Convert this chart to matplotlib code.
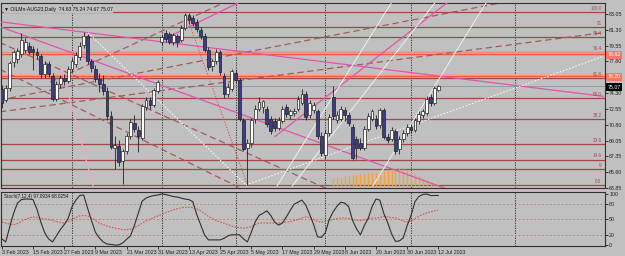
import matplotlib
matplotlib.use("Agg")
import matplotlib.pyplot as plt
import numpy as np

plt.rcParams['font.family'] = ['Liberation Sans', 'DejaVu Sans']

# ---- data ---------------------------------------------------------------
opens = [74.80, 73.60, 74.90, 77.70, 78.10, 78.60, 79.10, 79.50, 79.20, 78.90,
         78.40, 76.40, 77.50, 76.20, 73.70, 75.30, 76.00, 75.60, 77.00, 77.50,
         78.30, 79.60, 80.60, 77.80, 77.00, 75.90, 75.30, 74.60, 71.80, 68.30,
         68.50, 66.80, 67.90, 69.60, 71.00, 70.30, 69.40, 72.80, 73.60, 73.00,
         74.60, 80.00, 80.90, 80.80, 80.00, 80.60, 80.20, 81.50, 82.90, 82.60,
         82.20, 81.30, 80.60, 79.10, 77.30, 77.80, 78.80, 76.20, 74.20, 74.80,
         76.50, 75.80, 71.30, 68.30, 68.80, 71.50, 72.60, 72.80, 72.60, 71.50,
         71.20, 70.50, 71.20, 72.80, 71.90, 72.10, 72.60, 73.20, 74.20, 71.90,
         72.40, 72.30, 69.60, 67.50, 69.90, 73.90, 71.40, 71.50, 72.50, 71.90,
         70.60, 69.30, 68.80, 68.30, 70.40, 71.50, 71.50, 70.80, 72.40, 69.50,
         69.30, 70.10, 68.10, 69.20, 69.90, 70.60, 70.30, 71.20, 71.90, 72.10,
         73.90, 73.20, 74.63]
highs = [75.20, 75.20, 77.90, 79.10, 79.30, 80.90, 80.40, 79.90, 79.50, 79.30,
         78.60, 77.90, 77.80, 76.50, 75.60, 76.30, 76.40, 77.30, 78.20, 78.80,
         79.90, 81.00, 80.80, 78.10, 77.40, 76.50, 76.30, 75.00, 72.30, 69.60,
         69.10, 68.20, 69.90, 71.50, 71.90, 70.70, 73.10, 73.90, 73.90, 74.90,
         75.80, 80.70, 81.30, 81.10, 80.90, 80.80, 81.80, 83.20, 83.10, 82.90,
         82.50, 81.60, 80.90, 79.40, 78.10, 79.20, 79.10, 76.50, 75.40, 77.00,
         76.90, 76.00, 71.60, 69.30, 71.60, 73.00, 73.90, 73.50, 72.90, 71.80,
         71.60, 71.70, 72.90, 73.10, 72.60, 72.70, 74.00, 74.80, 74.50, 73.50,
         73.30, 72.60, 70.00, 70.20, 72.00, 75.10, 72.30, 72.90, 72.80, 72.20,
         70.90, 69.60, 69.40, 70.70, 72.10, 72.60, 71.90, 72.70, 72.70, 69.90,
         70.60, 70.40, 69.60, 70.20, 70.90, 70.90, 71.60, 72.30, 72.60, 74.00,
         74.20, 75.10, 75.24]
lows = [72.70, 73.30, 74.60, 77.20, 77.60, 78.30, 78.70, 78.60, 76.90, 78.10,
        76.00, 76.00, 76.10, 73.40, 73.40, 74.90, 75.20, 75.40, 76.60, 77.20,
        78.00, 79.30, 77.50, 76.60, 75.50, 74.40, 74.10, 71.40, 68.10, 65.90,
        66.30, 64.30, 67.60, 69.30, 70.00, 67.80, 69.10, 72.40, 72.60, 72.80,
        74.30, 79.60, 80.00, 79.70, 79.60, 79.40, 79.90, 81.30, 81.90, 81.70,
        81.10, 80.30, 78.90, 76.90, 76.80, 77.50, 76.30, 73.80, 73.90, 74.50,
        75.40, 71.20, 67.90, 64.20, 68.40, 71.00, 72.30, 72.10, 70.60, 69.80,
        70.10, 70.20, 71.00, 71.70, 71.50, 71.80, 72.30, 73.00, 71.40, 71.60,
        72.10, 69.30, 67.40, 67.10, 69.60, 71.50, 71.00, 71.20, 71.20, 70.70,
        66.90, 67.00, 68.00, 68.00, 70.10, 71.20, 70.40, 70.50, 69.20, 68.80,
        69.00, 67.60, 67.60, 68.90, 69.60, 69.90, 70.00, 70.90, 71.60, 71.90,
        72.90, 73.00, 74.57]
closes = [73.20, 74.90, 77.60, 78.80, 79.00, 80.20, 80.00, 78.90, 78.80, 78.50,
          76.40, 77.50, 76.40, 73.70, 75.30, 76.00, 75.60, 77.00, 77.90, 78.50,
          79.50, 80.60, 77.80, 77.10, 75.90, 75.30, 74.50, 71.80, 68.40, 68.60,
          66.70, 67.90, 69.60, 71.10, 70.40, 69.60, 72.90, 73.50, 73.00, 74.70,
          75.50, 80.50, 80.30, 80.00, 80.70, 79.90, 81.50, 82.90, 82.40, 82.00,
          81.40, 80.60, 79.10, 77.20, 77.80, 78.80, 76.60, 74.20, 75.00, 76.70,
          75.80, 71.50, 68.20, 68.80, 71.30, 72.60, 73.30, 73.40, 70.90, 70.10,
          70.50, 71.40, 72.60, 72.00, 72.30, 72.30, 73.70, 74.20, 71.70, 73.20,
          73.00, 69.60, 67.70, 69.90, 71.70, 71.80, 71.90, 72.60, 71.90, 71.00,
          67.20, 68.30, 68.30, 70.40, 71.80, 72.30, 70.70, 72.40, 69.50, 69.10,
          70.30, 67.90, 69.30, 69.90, 70.60, 70.20, 71.30, 72.00, 72.30, 73.70,
          73.20, 74.90, 75.07]

stoch_k = [12, 6, 35, 62, 82, 89, 90, 90, 89, 70, 45, 24, 12, 6, 18, 30, 40, 52,
           75, 88, 97, 98, 72, 48, 25, 14, 6, 2, 1, 0, 0, 4, 11, 18, 38, 62, 86,
           92, 95, 97, 98, 100, 99, 97, 95, 94, 92, 90, 89, 85, 60, 40, 20, 10,
           10, 10, 10, 13, 18, 20, 20, 20, 12, 6, 25, 45, 58, 62, 67, 58, 45, 39,
           43, 55, 68, 80, 84, 88, 78, 60, 40, 16, 15, 24, 50, 65, 76, 84, 82,
           75, 48, 32, 20, 38, 52, 75, 90, 88, 62, 44, 22, 7, 8, 14, 38, 58, 85,
           95, 99, 100, 97, 97, 97.09]
stoch_d = [45, 43, 41, 40, 42, 46, 50, 53, 55, 54, 52, 51, 50, 48, 46, 44, 43, 46,
           50, 54, 57, 58, 57, 53, 48, 43, 40, 37, 35, 33, 32, 30, 30, 31, 34, 38,
           43, 47, 50, 54, 57, 60, 63, 66, 69, 71, 73, 74, 74, 73, 71, 67, 62, 56,
           52, 48, 45, 43, 40, 37, 35, 34, 33, 34, 36, 40, 43, 43, 43, 43, 43, 43,
           44, 45, 46, 48, 50, 53, 55, 54, 50, 46, 45, 46, 48, 50, 52, 53, 53, 52,
           50, 48, 48, 49, 51, 53, 53, 54, 56, 55, 54, 53, 50, 47, 45, 47, 52, 56,
           60, 63, 65, 67, 68.03]

# orange histogram in the price window (bars 85..112)
hist_start = 85
hist_top = [65.00, 65.05, 65.10, 65.15, 65.20, 65.25, 65.30, 65.35, 65.40, 65.45,
            65.50, 65.55, 65.60, 65.70, 65.80, 65.95, 66.10, 66.15, 66.00, 65.80,
            65.60, 65.40, 65.20, 64.95, 64.70, 64.50, 64.30, 64.20]

date_labels = ["3 Feb 2023", "15 Feb 2023", "27 Feb 2023", "9 Mar 2023",
               "21 Mar 2023", "31 Mar 2023", "13 Apr 2023", "25 Apr 2023",
               "5 May 2023", "17 May 2023", "29 May 2023", "8 Jun 2023",
               "20 Jun 2023", "30 Jun 2023", "12 Jul 2023"]
date_label_bars = [0, 8, 16, 24, 32, 40, 48, 56, 64, 72, 80, 88, 96, 104, 112]
month_separators = [18, 41, 60, 83, 105, 131.7]

price_ticks = [83.05, 81.30, 79.55, 77.80, 74.30, 72.55, 70.80, 69.05, 67.35,
               65.60, 63.85]
fib_low, fib_high = 64.20, 83.30
fib_anchor_bars = [47, 63]
fib_levels = [0.0, 9.0, 14.6, 23.6, 38.2, 50.0, 61.8, 76.4, 85.4, 91.0, 100.0]
fib_names = ["0.0", "9", "14.6", "23.6", "38.2", "50.0", "61.8", "76.4", "85.4",
             "91", "100.0"]
red_levels = [78.62, 76.20]
bid = 75.07

# trendlines: (bar1, price1, bar2, price2)
pink_lines = [(-0.5, 82.18, 154.3, 73.96),
              (-0.5, 81.64, 114.2, 63.75),
              (70.1, 69.53, 114.5, 84.36),
              (41.3, 80.21, 61.1, 84.36)]
pale_pink_lines = [(15.4, 76.94, 23.4, 64.07)]
white_dotted = [(62.65, 64.18, 154.3, 78.36),
                (22.1, 80.98, 62.65, 64.18)]
white_solid = [(70.6, 64.07, 100.4, 84.58),
               (74.5, 64.07, 111.7, 84.58),
               (95.2, 64.07, 124.7, 84.58)]
brown_dashed = [(-0.5, 73.56, 130.4, 84.47),
                (-0.5, 72.25, 154.3, 80.98),
                (12.4, 75.52, 58.5, 84.58),
                (-0.5, 79.89, 82.9, 63.86),
                (-0.5, 76.94, 61.1, 63.86)]

# ---- drawing --------------------------------------------------------------
BG = "#c0c0c0"
FIB = "#a04848"
W, H = 625, 256
FS = 3.8


def fx(px):
    return px / W


def fy(py):
    return 1 - py / H


fig = plt.figure(figsize=(W / 100, H / 100), dpi=100, facecolor=BG)
ax = fig.add_axes([fx(1), fy(188), fx(604), fy(3) - fy(188)], facecolor=BG)
ax2 = fig.add_axes([fx(1), fy(246), fx(604), fy(192) - fy(246)], facecolor=BG)

xlim = (-0.22, 154.77)
for a in (ax, ax2):
    a.set_xlim(*xlim)
    for s in a.spines.values():
        s.set_color("#303030")
        s.set_linewidth(0.8)
    a.tick_params(length=2, width=0.6, colors="#202020", labelsize=FS, pad=1)
    for m in month_separators:
        a.axvline(m, color="#202020", lw=0.6, ls=(0, (1.5, 1.5)), zorder=1)

ymin, ymax = 64.074, 84.25
ax.set_ylim(ymin, ymax)

# fibonacci levels + the dotted line joining its anchors
for lev, name in zip(fib_levels, fib_names):
    p = fib_low + (fib_high - fib_low) * lev / 100
    ax.axhline(p, color=FIB, lw=0.9, zorder=2)
    ax.text(153.9, p + 0.12, name, color=FIB, fontsize=3.3, ha="right",
            va="bottom", zorder=6)
ax.plot(fib_anchor_bars, [fib_high, fib_low], color="#e04848", lw=0.7,
        ls=(0, (1.2, 1.6)), zorder=3)

# red levels
for p in red_levels:
    ax.axhline(p, color="#f8a888", lw=2.6, zorder=2)
    ax.axhline(p, color="#ec5a42", lw=1.0, zorder=2)
ax.axhline(bid, color="#8f9cab", lw=0.7, zorder=2)


def draw_lines(lines, **kw):
    for b1, p1, b2, p2 in lines:
        ax.plot([b1, b2], [p1, p2], **kw)


draw_lines(brown_dashed, color="#a85858", lw=0.9, ls=(0, (5, 3)), zorder=2)
draw_lines(pink_lines, color="#e055ac", lw=0.9, zorder=3)
draw_lines(pale_pink_lines, color="#f2a8c8", lw=0.9, zorder=3)
draw_lines(white_solid, color="#f0f0f0", lw=0.7, zorder=3)
draw_lines(white_dotted, color="#f4f4f4", lw=0.8, ls=(0, (1.5, 1.5)), zorder=3)

# orange histogram
hx = np.arange(hist_start, hist_start + len(hist_top))
ax.vlines(hx, ymin, hist_top, color="#f5a030", lw=1.0, zorder=2.5)

# candles
x = np.arange(len(closes))
o = np.array(opens)
c = np.array(closes)
up = c >= o
ax.vlines(x, lows, highs, color="#202020", lw=0.6, zorder=4)
body_lo = np.minimum(o, c)
body_h = np.maximum(np.abs(c - o), 0.05)
ax.bar(x[up], body_h[up], bottom=body_lo[up], width=0.72, color="white",
       edgecolor="#202020", linewidth=0.5, zorder=5)
ax.bar(x[~up], body_h[~up], bottom=body_lo[~up], width=0.72, color="#3c3c8c",
       edgecolor="#202020", linewidth=0.5, zorder=5)

# right price axis
ax.yaxis.tick_right()
ax.set_yticks(price_ticks)
ax.set_yticklabels([f"{t:.2f}" for t in price_ticks])
ax.set_xticks([])


def price_box(p, fc):
    ax.text(1.004, (p - ymin) / (ymax - ymin), f"{p:.2f}", transform=ax.transAxes,
            fontsize=FS, color="white", ha="left", va="center", zorder=10,
            bbox=dict(boxstyle="square,pad=0.3", fc=fc, ec="none"), clip_on=False)


for p in red_levels:
    price_box(p, "#f07a62")
price_box(bid, "black")

ax.text(0.005, 0.978, "\u25bc OILMn-AUG23,Daily  74.63 75.24 74.67 75.07",
        transform=ax.transAxes, fontsize=3.6, color="#101010", ha="left",
        va="top", zorder=10,
        bbox=dict(boxstyle="square,pad=0.1", fc=BG, ec="none"))

# stochastic
ax2.set_ylim(-1.96, 103.9)
for lev in (20, 50, 80):
    ax2.axhline(lev, color="#c08a6a", lw=0.7, ls=(0, (2, 2)))
ax2.plot(x, stoch_d, color="#e05050", lw=0.8, ls=(0, (1.5, 1.2)))
ax2.plot(x, stoch_k, color="#303030", lw=0.8)
ax2.yaxis.tick_right()
ax2.set_yticks([0, 20, 50, 80, 100])
ax2.set_yticklabels(["0", "20", "50", "80", "100"])
ax2.set_xticks(date_label_bars)
ax2.set_xticklabels(date_labels, ha="left")
ax2.text(0.005, 0.96, "Stoch(7,12,4) 97.0934 68.0254", transform=ax2.transAxes,
         fontsize=3.3, color="#101010", ha="left", va="top")

fig.savefig("out.png", dpi=100, facecolor=BG)
